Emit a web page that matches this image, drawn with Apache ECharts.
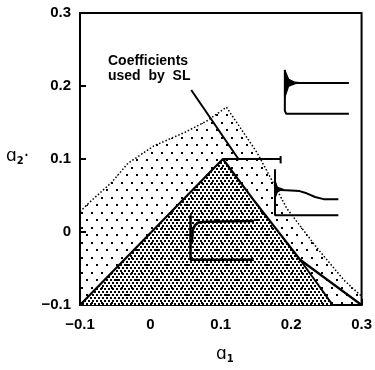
<!DOCTYPE html>
<html>
<head>
<meta charset="utf-8">
<script src="https://cdn.jsdelivr.net/npm/echarts@6/dist/echarts.min.js"></script>
<style>
  html, body { margin: 0; padding: 0; background: #fff; }
  #main { width: 375px; height: 370px; }
</style>
</head>
<body>
<div id="main"></div>
<script>
// axis ticks
const xTicks = [-0.1, 0, 0.1, 0.2, 0.3];
const yTicks = [-0.1, 0, 0.1, 0.2, 0.3];

// outer (sparse dots) region, upper boundary
const outerEdge = [
  [-0.1, 0.028], [-0.086, 0.041], [-0.055, 0.068], [-0.032, 0.094],
  [0.005, 0.118], [0.05, 0.137], [0.08, 0.152], [0.108, 0.171],
  [0.152, 0.108], [0.194, 0.032], [0.236, -0.021], [0.275, -0.066], [0.3, -0.088]
];

// inner (dense dots) region outline
const innerEdge = [[-0.1, -0.1], [0.103, 0.1], [0.1465, 0.044], [0.2127, -0.038], [0.259, -0.1]];

// bold triangle edge and branch
const triEdge = [[-0.1, -0.1], [0.103, 0.1], [0.1465, 0.044], [0.2127, -0.038], [0.3, -0.1]];
const branch = [[0.2127, -0.038], [0.259, -0.1]];

// pointer from label + range bar
const pointer = [[0.058, 0.1945], [0.126, 0.0986]];
const rangeBar = [[0.103, 0.1], [0.185, 0.1]];
const rangeEnd = [[0.185, 0.104], [0.185, 0.094]];

// step response sketches
const topAxis = [[0.191, 0.222], [0.191, 0.166], [0.193, 0.162], [0.282, 0.162]];
const topResp = [[0.191, 0.204], [0.282, 0.204]];
const topSpike = [[0.191, 0.224], [0.197, 0.21], [0.205, 0.206], [0.215, 0.205], [0.205, 0.202], [0.197, 0.199], [0.191, 0.182]];

const midAxis = [[0.177, 0.086], [0.177, 0.023], [0.267, 0.023]];
const midResp = [[0.177, 0.058], [0.2, 0.057], [0.212, 0.056], [0.222, 0.053], [0.234, 0.048], [0.246, 0.045], [0.267, 0.045]];
const midSpike = [[0.177, 0.073], [0.181, 0.062], [0.19, 0.059], [0.181, 0.054], [0.177, 0.044]];

const cenAxis = [[0.057, 0.023], [0.057, -0.038], [0.147, -0.038]];
const cenResp = [[0.059, -0.015], [0.06, 0.002], [0.063, 0.009], [0.068, 0.013], [0.08, 0.014], [0.147, 0.015]];

function dotTile(w, h, pts, size, bg) {
  const c = document.createElement('canvas');
  c.width = w; c.height = h;
  const g = c.getContext('2d');
  if (bg) { g.fillStyle = bg; g.fillRect(0, 0, w, h); }
  g.fillStyle = '#000';
  pts.forEach(p => g.fillRect(p[0], p[1], size, size));
  return c;
}
const sparse = dotTile(10, 15, [[1, 2], [6, 9]], 2, null);
const dense = dotTile(8, 6, [[0, 0], [4, 0], [2, 3], [6, 3]], 2, '#ffffff');

function line(data, width, type) {
  return {
    type: 'line', data: data, showSymbol: false, silent: true,
    lineStyle: { color: '#000', width: width, type: type || 'solid' }
  };
}
function poly(data, fill) {
  return {
    type: 'custom', data: data, silent: true,
    renderItem: (params, api) => {
      if (params.dataIndex !== 0) return;
      return {
        type: 'polygon',
        shape: { points: data.map(p => api.coord(p)) },
        style: { fill: fill }
      };
    }
  };
}

const fmt = v => (Math.abs(v) < 1e-9 ? '0' : (v < 0 ? '\u2212' : '') + Math.abs(v).toFixed(1));
const labelFont = { color: '#000', fontSize: 15, fontWeight: 'bold', fontFamily: 'Liberation Sans' };
const nameRich = {
  a: { fontSize: 17, fontFamily: 'DejaVu Sans', fill: '#000' },
  s: { fontSize: 10, fontFamily: 'DejaVu Sans', fontWeight: 'bold', fill: '#000', padding: [9, 0, 0, 0] }
};

const chart = echarts.init(document.getElementById('main'));
chart.setOption({
  animation: false,
  grid: { left: 80, right: 12, top: 13, bottom: 65, show: true, borderColor: '#000', borderWidth: 2 },
  xAxis: {
    type: 'value', min: xTicks[0], max: xTicks[xTicks.length - 1], interval: 0.1,
    splitLine: { show: false },
    axisLine: { show: true, onZero: false, lineStyle: { color: '#000', width: 2 } },
    axisTick: { inside: true, length: 6, lineStyle: { color: '#000', width: 2 } },
    axisLabel: Object.assign({ margin: 12, formatter: fmt }, labelFont)
  },
  yAxis: {
    type: 'value', min: yTicks[0], max: yTicks[yTicks.length - 1], interval: 0.1,
    splitLine: { show: false },
    axisLine: { show: true, onZero: false, lineStyle: { color: '#000', width: 2 } },
    axisTick: { inside: true, length: 6, lineStyle: { color: '#000', width: 2 } },
    axisLabel: Object.assign({ margin: 9, formatter: fmt }, labelFont)
  },
  graphic: [
    {
      type: 'text', left: 108, top: 54,
      style: { text: 'Coefficients\nused  by  SL', fill: '#000', font: 'bold 14px "Liberation Sans"', lineHeight: 15 }
    },
    { type: 'text', left: 216, top: 346, style: { text: '{a|\u0251}{s|1}', rich: nameRich } },
    { type: 'text', left: 6, top: 148, style: { text: '{a|\u0251}{s|2}{a|\u00b7}', rich: nameRich } }
  ],
  series: [
    Object.assign(line(outerEdge, 1.5, [1.5, 2]), { areaStyle: { origin: 'start', color: { image: sparse, repeat: 'repeat' }, opacity: 1 } }),
    poly(innerEdge, { image: dense, repeat: 'repeat' }),
    line(triEdge, 2.2),
    line(branch, 2),
    line(pointer, 2),
    line(rangeBar, 2),
    line(rangeEnd, 2),
    line(topAxis, 2),
    line(topResp, 2),
    poly(topSpike, '#000'),
    line(midAxis, 2),
    line(midResp, 2),
    poly(midSpike, '#000'),
    line(cenAxis, 2.5),
    line(cenResp, 2.5)
  ]
});
</script>
</body>
</html>
